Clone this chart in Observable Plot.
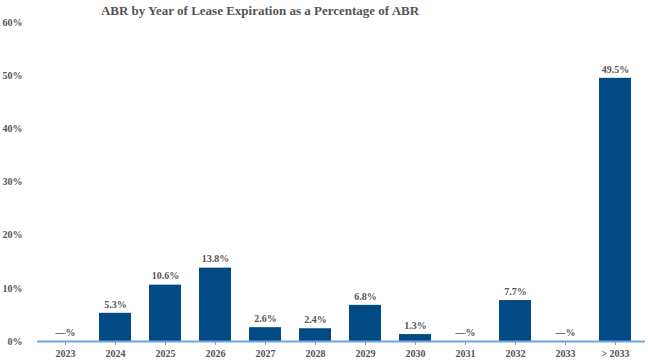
<!DOCTYPE html>
<html><head><meta charset="utf-8">
<script src="https://cdn.jsdelivr.net/npm/d3@7"></script>
<script src="https://cdn.jsdelivr.net/npm/@observablehq/plot@0.6"></script>
<style>
body{margin:0;background:#fff;font-family:"Liberation Serif","Times New Roman",Times,"DejaVu Serif",serif;}
#wrap{position:relative;width:648px;height:360px;}
#title{position:absolute;left:0;top:3px;width:520px;text-align:center;font-weight:bold;font-size:13px;line-height:16px;color:#555;}
</style></head>
<body>
<div id="wrap">
<div id="chart"></div>
<div id="title">ABR by Year of Lease Expiration as a Percentage of ABR</div>
</div>
<script>
const years = ["2023","2024","2025","2026","2027","2028","2029","2030","2031","2032","2033","> 2033"];
const values = [0, 5.3, 10.6, 13.8, 2.6, 2.4, 6.8, 1.3, 0, 7.7, 0, 49.5];
const yTicks = [0, 10, 20, 30, 40, 50, 60];

const data = years.map((y, i) => ({year: y, value: values[i], label: values[i] === 0 ? "—%" : values[i].toFixed(1) + "%"}));
const FONT = '"Liberation Serif","Times New Roman",Times,"DejaVu Serif",serif';

const plot = Plot.plot({
  width: 648,
  height: 360,
  marginTop: 22,
  marginBottom: 19,
  marginLeft: 37,
  marginRight: 5,
  style: {fontFamily: FONT, fontWeight: "bold", fontSize: "10px", color: "#555", background: "#fff"},
  x: {domain: years, paddingInner: 0.364, paddingOuter: 0.2, label: null},
  y: {domain: [0, 60], label: null},
  marks: [
    Plot.barY(data, {x: "year", y: "value", fill: "#024a83"}),
    Plot.ruleY([0], {stroke: "#6fa5dc", strokeWidth: 2, insetRight: -2}),
    Plot.axisY(yTicks, {tickSize: 0, tickPadding: 15, tickFormat: d => d + "%", fill: "#555", fontSize: 10}),
    Plot.axisX({tickSize: 4, stroke: "#6fa5dc", tickPadding: 4, fill: "#555", fontSize: 10}),
    Plot.text(data, {x: "year", y: "value", text: "label", dy: -9, fill: "#555", fontSize: 10, fontWeight: "bold"})
  ]
});
document.getElementById("chart").appendChild(plot);
</script>
</body></html>
